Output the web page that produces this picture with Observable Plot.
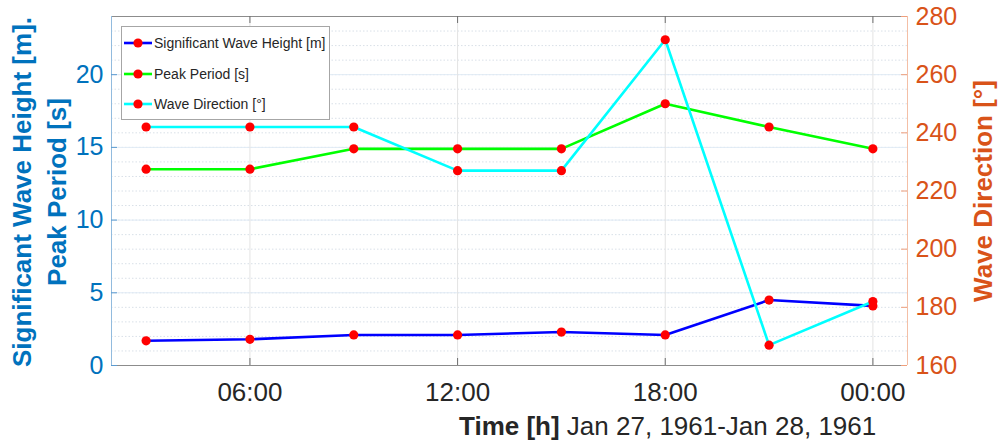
<!DOCTYPE html>
<html><head><meta charset="utf-8">
<script src="https://cdn.jsdelivr.net/npm/d3@7"></script>
<script src="https://cdn.jsdelivr.net/npm/@observablehq/plot@0.6"></script>
<style>
body{margin:0;background:#fff;font-family:"Liberation Sans",Arial,sans-serif;}
#wrap{position:relative;width:1003px;height:440px;overflow:hidden;background:#fff;}
#wrap > *{position:absolute;left:0;top:0;}
.rot{white-space:nowrap;font-weight:bold;font-size:26px;text-align:center;line-height:35px;transform:translate(-50%,-50%) rotate(-90deg);}
#legend{border:1px solid #a6a6a6;background:#fff;box-sizing:border-box;}
.le{position:absolute;left:0;height:20px;display:flex;align-items:center;font-size:14px;color:#262626;white-space:nowrap;}
</style></head><body><div id="wrap"></div>
<script>
// ---- data ----
const times = ["1961-01-27T03:00Z","1961-01-27T06:00Z","1961-01-27T09:00Z","1961-01-27T12:00Z","1961-01-27T15:00Z","1961-01-27T18:00Z","1961-01-27T21:00Z","1961-01-28T00:00Z"];
const waveHeight = [1.7, 1.8, 2.1, 2.1, 2.3, 2.1, 4.5, 4.1];
const peakPeriod = [13.5, 13.5, 14.9, 14.9, 14.9, 18.0, 16.4, 14.9];
const waveDirection = [242, 242, 242, 227, 227, 272, 167, 182];
const xTickLabels = ["1961-01-27T06:00Z","1961-01-27T12:00Z","1961-01-27T18:00Z","1961-01-28T00:00Z"];
const xDomain = ["1961-01-27T02:00Z","1961-01-28T01:00Z"];
const leftTicks = [0, 5, 10, 15, 20];
const leftDomain = [0, 24];
const rightTicks = [160, 180, 200, 220, 240, 260, 280];
const rightDomain = [160, 280];
const seriesNames = ["Significant Wave Height [m]", "Peak Period [s]", "Wave Direction [°]"];
const seriesColors = ["#0000ff", "#00ff00", "#00ffff"];

// ---- build ----
const data = times.map((t, i) => ({t: new Date(t), hs: waveHeight[i], tp: peakPeriod[i], dir: waveDirection[i]}));
const xt = xTickLabels.map(d => new Date(d));
const xd = xDomain.map(d => new Date(d));
const W = 1003, H = 440, mL = 111, mR = 96, mT = 16, mB = 75;
const innerW = W - mL - mR, innerH = H - mT - mB;
const minor = d3.range(leftDomain[0], leftDomain[1] + 1, 1);
const font = '"Liberation Sans", Arial, sans-serif';

const p1 = Plot.plot({
  width: W, height: H, marginLeft: mL, marginRight: mR, marginTop: mT, marginBottom: mB,
  style: {fontFamily: font, background: "transparent", overflow: "visible"},
  x: {type: "utc", domain: xd},
  y: {domain: leftDomain},
  marks: [
    Plot.ruleY(minor, {stroke: "#d9e0e8", strokeDasharray: "1.5,2"}),
    Plot.ruleY(leftTicks, {stroke: "#e1ebf5"}),
    Plot.ruleX(xt, {stroke: "#e3e3e3"}),
    Plot.ruleY([leftDomain[1]], {stroke: "#8c8c8c"}),
    Plot.ruleY([leftDomain[0]], {stroke: "#8c8c8c"}),
    Plot.ruleX(xt, {stroke: "#6e6e6e", insetTop: innerH - 7}),
    Plot.ruleX(xt, {stroke: "#6e6e6e", insetBottom: innerH - 7}),
    Plot.ruleX([xd[0]], {stroke: "#92bbde"}),
    Plot.ruleY(leftTicks, {stroke: "#5c9bd0", insetRight: innerW - 6}),
    Plot.line(data, {x: "t", y: "hs", stroke: seriesColors[0], strokeWidth: 2.6}),
    Plot.dot(data, {x: "t", y: "hs", r: 4.6, fill: "#ff0000"}),
    Plot.line(data, {x: "t", y: "tp", stroke: seriesColors[1], strokeWidth: 2.6}),
    Plot.dot(data, {x: "t", y: "tp", r: 4.6, fill: "#ff0000"}),
    Plot.axisX(xt, {tickSize: 0, tickPadding: 17, fontSize: 26, fill: "#262626", tickFormat: d3.utcFormat("%H:%M"), label: null}),
    Plot.axisY(leftTicks, {tickSize: 0, tickPadding: 8, fontSize: 25, fill: "#0072bd", label: null})
  ]
});

const p2 = Plot.plot({
  width: W, height: H, marginLeft: mL, marginRight: mR, marginTop: mT, marginBottom: mB,
  style: {fontFamily: font, background: "transparent", overflow: "visible"},
  x: {type: "utc", domain: xd, axis: null},
  y: {domain: rightDomain},
  marks: [
    Plot.ruleX([xd[1]], {stroke: "#f4bfa6"}),
    Plot.ruleY(rightTicks, {stroke: "#ef9f7c", insetLeft: innerW - 6}),
    Plot.line(data, {x: "t", y: "dir", stroke: seriesColors[2], strokeWidth: 2.6}),
    Plot.dot(data, {x: "t", y: "dir", r: 4.6, fill: "#ff0000"}),
    Plot.axisY(rightTicks, {anchor: "right", tickSize: 0, tickPadding: 8, fontSize: 25, fill: "#d95319", label: null})
  ]
});

const wrap = document.getElementById("wrap");
wrap.appendChild(p1);
wrap.appendChild(p2);

// legend
const lg = document.createElement("div");
lg.id = "legend";
Object.assign(lg.style, {left: "121px", top: "26px", width: "209px", height: "94px"});
seriesNames.forEach((name, i) => {
  const e = document.createElement("div");
  e.className = "le";
  e.style.top = (6 + i * 30.5) + "px";
  e.innerHTML = `<svg width="30" height="20" style="margin-left:1px;margin-right:1px"><line x1="1" y1="10" x2="29" y2="10" stroke="${seriesColors[i]}" stroke-width="2.6"/><circle cx="15" cy="10" r="4.6" fill="#ff0000"/></svg><span></span>`;
  e.querySelector("span").textContent = name;
  lg.appendChild(e);
});
wrap.appendChild(lg);

// axis titles
const yl = document.createElement("div");
yl.className = "rot";
yl.style.color = "#0072bd";
Object.assign(yl.style, {left: "40px", top: "192px"});
yl.innerHTML = "Significant Wave Height [m].<br>Peak Period [s]";
wrap.appendChild(yl);

const yr = document.createElement("div");
yr.className = "rot";
yr.style.color = "#d95319";
Object.assign(yr.style, {left: "983px", top: "191px"});
yr.textContent = "Wave Direction [°]";
wrap.appendChild(yr);

const xl = document.createElement("div");
Object.assign(xl.style, {left: "459px", top: "413px", fontSize: "26px", lineHeight: "26px", color: "#262626", whiteSpace: "nowrap"});
xl.innerHTML = '<b>Time [h]</b> Jan 27, 1961-Jan 28, 1961';
wrap.appendChild(xl);
</script>
</body></html>
